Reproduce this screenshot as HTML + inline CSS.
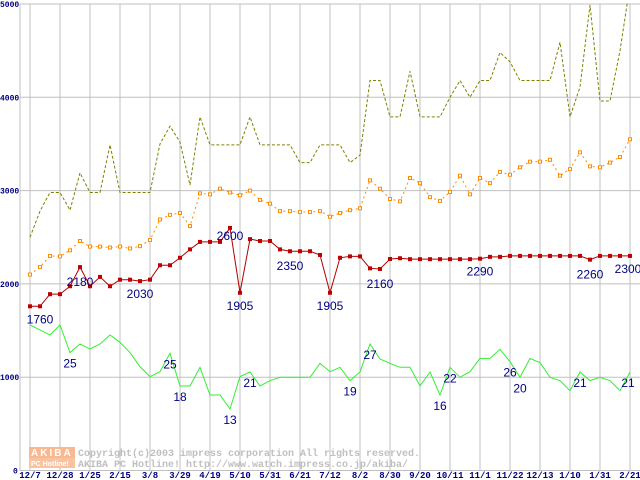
<!DOCTYPE html>
<html><head><meta charset="utf-8"><style>
body{margin:0;background:#fff;width:640px;height:480px;overflow:hidden}
svg{display:block}
</style></head><body>
<svg id="chart" width="640" height="480" xmlns="http://www.w3.org/2000/svg" font-family="Liberation Sans, sans-serif">
<g id="grid"></g>
<g id="wm">
  <rect x="29" y="447" width="46" height="11" fill="#f9b890"/>
  <rect x="29" y="458" width="46" height="10" fill="#f7c3a0"/>
  <text x="31" y="456" font-size="10" font-weight="bold" fill="#fff" letter-spacing="2">AKIBA</text>
  <text x="31" y="466" font-size="7" font-weight="bold" fill="#fff">PC Hotline!</text>
  <text x="78" y="456" font-size="10" font-family="Liberation Mono, monospace" font-weight="bold" fill="#c0c0c0">Copyright(c)2003 impress corporation All rights reserved.</text>
  <text x="78" y="467" font-size="10" font-family="Liberation Mono, monospace" font-weight="bold" fill="#c0c0c0">AKIBA PC Hotline!  http://www.watch.impress.co.jp/akiba/</text>
</g>
<g id="series" clip-path="url(#clip)"></g>
<g id="labels"></g>
<defs><clipPath id="clip"><rect x="20" y="3" width="620" height="468"/></clipPath></defs>
</svg>
<script>
const xLabels=["12/7","12/28","1/25","2/15","3/8","3/29","4/19","5/10","5/31","6/21","7/12","8/2","8/30","9/20","10/11","11/1","11/22","12/13","1/10","1/31","2/21"];
const yTicks=[0,1000,2000,3000,4000,5000];
const olive=[2500,2780,2980,2980,2790,3190,2980,2980,3490,2980,2980,2980,2980,3500,3690,3520,3060,3790,3490,3490,3490,3490,3790,3490,3490,3490,3490,3300,3300,3490,3490,3490,3300,3380,4180,4180,3790,3790,4280,3790,3790,3790,4000,4180,4000,4180,4180,4480,4380,4180,4180,4180,4180,4590,3790,4110,4990,3960,3960,4500,5200];
const orange=[2100,2180,2300,2295,2360,2460,2400,2400,2390,2400,2380,2405,2470,2690,2740,2760,2620,2970,2960,3020,2980,2950,3000,2900,2860,2780,2780,2770,2770,2780,2720,2760,2790,2810,3110,3020,2910,2885,3135,3080,2930,2890,2985,3160,2960,3135,3080,3200,3170,3250,3310,3310,3330,3160,3230,3410,3260,3250,3300,3360,3550];
const red=[1760,1760,1890,1890,1975,2180,1975,2075,1975,2045,2045,2030,2045,2200,2200,2280,2370,2450,2450,2450,2600,1905,2480,2460,2460,2370,2350,2350,2350,2310,1905,2280,2295,2295,2167,2160,2267,2275,2265,2265,2265,2265,2265,2265,2265,2270,2290,2290,2300,2300,2300,2300,2300,2300,2300,2300,2260,2300,2300,2300,2300];
const green=[1560,1506,1452,1560,1263,1356,1302,1356,1452,1374,1263,1113,1006,1059,1256,906,906,1106,809,809,659,1006,1056,906,963,999,999,999,999,1149,1059,1106,963,1056,1356,1195,1149,1106,1106,906,1056,809,1106,999,1059,1202,1202,1299,1166,999,1202,1156,999,963,855,1056,963,999,963,855,1056];
const redLabelIdx=[0,5,11,20,21,26,30,35,45,56,60];
const redLabelText=["1760","2180","2030","2600","1905","2350","1905","2160","2290","2260","2300"];
const greenLabelIdx=[4,14,15,20,22,32,34,41,42,48,49,55,60];
const greenLabelText=["25","25","18","13","21","19","27","16","22","26","20","21","21"];

const NS="http://www.w3.org/2000/svg";
const X=i=>30+i*10;
const Y=v=>470.5-v*0.0933;
function mk(tag,attrs,parent){const e=document.createElementNS(NS,tag);for(const k in attrs)e.setAttribute(k,attrs[k]);parent.appendChild(e);return e;}
const grid=document.getElementById('grid'),ser=document.getElementById('series'),lab=document.getElementById('labels');

yTicks.forEach(v=>{
  const l=mk('line',{x1:20,x2:640,y1:Y(v),y2:Y(v),stroke:'#c0c0c0','stroke-width':1},grid);
  
  
  const t=mk('text',{x:v==0?13:0,y:Y(v)+3,'font-size':8,'font-weight':'bold',fill:'#000080','font-family':'Liberation Mono, monospace'},grid);
  t.textContent=String(v);
  
  
});
xLabels.forEach((s,k)=>{
  const x=30+k*30;
  const l=mk('line',{x1:x,x2:x,y1:4,y2:470,stroke:'#c0c0c0','stroke-width':1},grid);
  
  
  const t=mk('text',{x:x,y:478,'font-size':9,'font-weight':'bold',fill:'#000080','text-anchor':'middle','font-family':'Liberation Mono, monospace'},grid);
  t.textContent=s;
  
  
});
const ax=mk('line',{x1:20,x2:20,y1:4,y2:471,stroke:'#c0c0c0','stroke-width':1},grid);



function line(arr,color,dash,name){
  const p=mk('polyline',{points:arr.map((v,i)=>X(i)+','+Y(v)).join(' '),fill:'none',stroke:color,'stroke-width':1,'stroke-dasharray':dash},ser);
  
  
}
line(olive,'#808000','3,2','olive-series-line');
line(orange,'#ff8c00','2,3','orange-series-line');
orange.forEach((v,i)=>{
  const r=mk('rect',{x:X(i)-1.5,y:Y(v)-1.5,width:3,height:3,fill:'#fff',stroke:'#ff8c00','stroke-width':1},ser);
  
  
});
line(red,'#b00000','','red-series-line');
red.forEach((v,i)=>{
  const r=mk('rect',{x:X(i)-2,y:Y(v)-2,width:4,height:4,fill:'#c00000'},ser);
  
  
});
line(green,'#33ee33','','green-series-line');

redLabelIdx.forEach((i,k)=>{
  const t=mk('text',{x:Math.min(X(i)+ (i==0?10:0),628),y:Y(red[i])+ (k%2==0?17:19),'font-size':12,fill:'#000080','text-anchor':'middle'},lab);
  if(i==20){t.setAttribute('y',Y(red[i])+12);}
  t.textContent=redLabelText[k];
  
  
});
greenLabelIdx.forEach((i,k)=>{
  const t=mk('text',{x:X(i)-(i==60?2:0),y:Y(green[i])+15,'font-size':12,fill:'#000080','text-anchor':'middle'},lab);
  t.textContent=greenLabelText[k];
  
  
});
</script>
</body></html>
